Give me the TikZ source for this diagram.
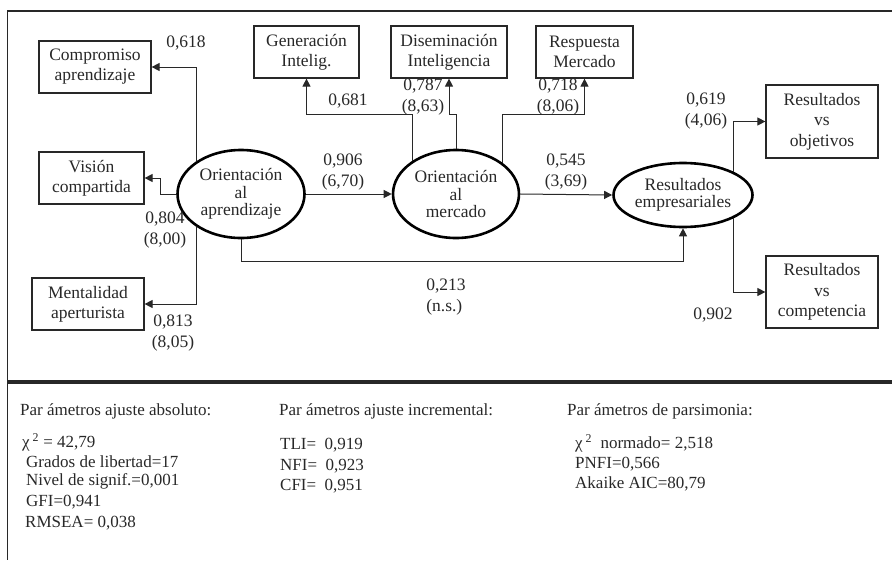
\documentclass[tikz,border=0pt]{standalone}
\usepackage{fontspec}
\setmainfont{Liberation Serif}
\usetikzlibrary{arrows.meta,shapes.geometric}
\definecolor{ink}{RGB}{40,40,40}

\begin{document}
\begin{tikzpicture}[x=1pt,y=-1pt,
    box/.style={draw=ink,line width=1.2pt,inner sep=0pt,align=center,text=ink,font=\fontsize{17.5}{20}\selectfont},
    latent/.style={ellipse,draw=black,line width=2.6pt,inner sep=0pt,align=center,text=ink,font=\fontsize{17.5}{17.5}\selectfont},
    link/.style={draw=ink,line width=1pt,-{Triangle[length=8pt,width=8pt]}},
    coef/.style={align=center,inner sep=0pt,text=ink,font=\fontsize{17.5}{20.5}\selectfont},
    param/.style={anchor=west,inner sep=0pt,text=ink,font=\fontsize{17}{20}\selectfont}]

    \useasboundingbox (0,0) rectangle (892,560);

    % Frame and separator
    \draw[ink,line width=1.6pt] (892,11) -- (7.5,11) -- (7.5,560);
    \draw[ink,line width=3.6pt] (7.5,382) -- (892,382);

    % Latent constructs
    \node[latent,minimum width=127,minimum height=88] (oa) at (241,194) {Orientación\\al\\aprendizaje};
    \node[latent,minimum width=126,minimum height=88] (om) at (456,194) {Orientación\\al\\mercado};
    \node[latent,minimum width=139,minimum height=64] (re) at (683,195) {Resultados\\empresariales};

    % Indicators
    \node[box,minimum width=112,minimum height=52] (comp) at (95,67) {Compromiso\\aprendizaje};
    \node[box,minimum width=105,minimum height=52] (vis) at (91.5,178) {Visión\\compartida};
    \node[box,minimum width=112,minimum height=52] (ment) at (88,304) {Mentalidad\\aperturista};
    \node[box,minimum width=105,minimum height=52] (gen) at (306.5,52) {Generación\\Intelig.};
    \node[box,minimum width=116,minimum height=52] (dis) at (449,52) {Diseminación\\Inteligencia};
    \node[box,minimum width=97,minimum height=52] (resp) at (584.5,52) {Respuesta\\Mercado};
    \node[box,minimum width=112,minimum height=73,font=\fontsize{17.5}{20.5}\selectfont] (robj) at (822,121.5) {Resultados\\vs\\objetivos};
    \node[box,minimum width=112,minimum height=72,font=\fontsize{17.5}{20.5}\selectfont] (rcomp) at (822,292) {Resultados\\vs\\competencia};

    \coordinate (topbus) at (0,114);

    % Paths
    \draw[link] (oa.143) |- (comp.east);
    \draw[link] (oa.west) -- ++(-16,0) |- (vis.east);
    \draw[link] (oa.217) |- (ment.east);
    \draw[link] (oa.east) -- (om.west);
    \draw[link] (oa.south) -- ++(0,22) -| (re.south);
    \draw[link] (om.143) -- (om.143 |- topbus) -| (gen.south);
    \draw[link] (om.north) -- (om.north |- topbus) -| (dis.south);
    \draw[link] (om.34) -- (om.34 |- topbus) -| (resp.south);
    \draw[link] (om.east) -- (re.west);
    \draw[link] (re.25) |- (robj.west);
    \draw[link] (re.-25) |- (rcomp.west);

    % Coefficients
    \node[coef] (w618) at (186,43) {0,618};
    \node[coef] (w804) at (165,230) {0,804\\(8,00)};
    \node[coef] (w813) at (173,333) {0,813\\(8,05)};
    \node[coef] (w681) at (348,101) {0,681};
    \node[coef] (w787) at (423,97) {0,787\\(8,63)};
    \node[coef] (w718) at (558,97) {0,718\\(8,06)};
    \node[coef] (w906) at (343,172) {0,906\\(6,70)};
    \node[coef] (w545) at (566,172) {0,545\\(3,69)};
    \node[coef] (w619) at (706,111) {0,619\\(4,06)};
    \node[coef] (w902) at (713,315) {0,902};
    \node[coef,align=left] (w213) at (446,297) {0,213\\(n.s.)};

    % Fit indices
    \node[param] (abs) at (20,411) {Par ámetros ajuste absoluto:};
    \node[param] (chi) at (22,442) {χ\,\textsuperscript{2} = 42,79};
    \node[param] (gl) at (26,462) {Grados de libertad=17};
    \node[param] (sig) at (26,481) {Nivel de signif.=0,001};
    \node[param] (gfi) at (26,502) {GFI=0,941};
    \node[param] (rmsea) at (25,523) {RMSEA= 0,038};

    \node[param] (inc) at (279,411) {Par ámetros ajuste incremental:};
    \node[param] (tli) at (280,445) {TLI=\ \ 0,919};
    \node[param] (nfi) at (280,466) {NFI=\ \ 0,923};
    \node[param] (cfi) at (280,486) {CFI=\ \ 0,951};

    \node[param] (pars) at (567,411) {Par ámetros de parsimonia:};
    \node[param] (chin) at (575,443) {χ\,\textsuperscript{2}\ \ normado= 2,518};
    \node[param] (pnfi) at (575,464) {PNFI=0,566};
    \node[param] (aic) at (575,484) {Akaike AIC=80,79};
\end{tikzpicture}
\end{document}
